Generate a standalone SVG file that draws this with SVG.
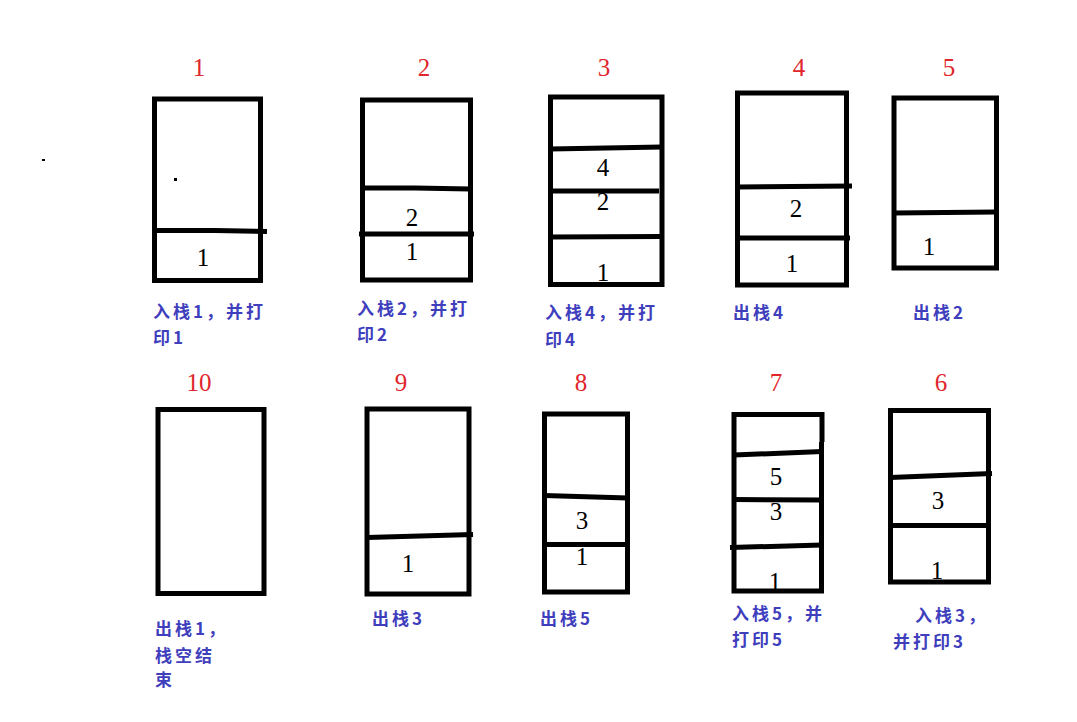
<svg xmlns="http://www.w3.org/2000/svg" width="1077" height="722" viewBox="0 0 1077 722">
<style>
.box{fill:none;stroke:#000;stroke-width:5}
.div{stroke:#000;stroke-width:5;fill:none}
.step{font-family:"Liberation Serif",serif;font-size:25px;fill:#e0262b;text-anchor:middle}
.val{font-family:"Liberation Serif",serif;font-size:25px;fill:#000;text-anchor:middle}
.cap{font-family:"Noto Sans CJK SC",sans-serif;font-size:17px;font-weight:bold;fill:#3f3fbd;letter-spacing:3px}
</style>
<rect width="1077" height="722" fill="#fff"/>
<rect x="42" y="159" width="3" height="2" fill="#000"/>

<g id="stack1">
<text class="step" x="199" y="76">1</text>
<rect class="box" x="154.5" y="99" width="106" height="181.5"/>
<path class="div" d="M155 230.5 L215 230.5 L267 231.5"/>
<rect x="174" y="178" width="3" height="3" fill="#000"/>
<text class="val" x="203" y="265.5">1</text>
<text class="cap" x="153" y="318">入栈1，并打</text>
<text class="cap" x="153" y="344">印1</text>
</g>

<g id="stack2">
<text class="step" x="424" y="76">2</text>
<rect class="box" x="362.5" y="100" width="108" height="180"/>
<path class="div" d="M363 188 L415 188 L470 189"/>
<path class="div" d="M359 234 L474 234"/>
<text class="val" x="412" y="226">2</text>
<text class="val" x="412" y="260">1</text>
<text class="cap" x="357" y="315">入栈2，并打</text>
<text class="cap" x="357" y="341">印2</text>
</g>

<g id="stack3">
<text class="step" x="604" y="76">3</text>
<rect class="box" x="550.5" y="97" width="111.5" height="187.5"/>
<path class="div" d="M550 149 L662 147"/>
<path class="div" d="M553 191 L659 191"/>
<path class="div" d="M550 237 L662 236.5"/>
<text class="val" x="603" y="176">4</text>
<text class="val" x="603" y="210">2</text>
<text class="val" x="603" y="281">1</text>
<text class="cap" x="545" y="319">入栈4，并打</text>
<text class="cap" x="545" y="346">印4</text>
</g>

<g id="stack4">
<text class="step" x="799" y="76">4</text>
<rect class="box" x="737.5" y="93" width="109" height="192"/>
<path class="div" d="M738 187 L852 186"/>
<path class="div" d="M738 238 L850 238"/>
<text class="val" x="796" y="216.5">2</text>
<text class="val" x="792" y="272">1</text>
<text class="cap" x="733" y="319">出栈4</text>
</g>

<g id="stack5">
<text class="step" x="949" y="76">5</text>
<rect class="box" x="894" y="98" width="102.5" height="170"/>
<path class="div" d="M894 213 L996 212"/>
<text class="val" x="929" y="255">1</text>
<text class="cap" x="913" y="319">出栈2</text>
</g>

<g id="stack10">
<text class="step" x="199" y="391">10</text>
<rect class="box" x="158" y="409.5" width="106" height="184"/>
<text class="cap" x="155" y="635">出栈1，</text>
<text class="cap" x="155" y="662">栈空结</text>
<text class="cap" x="155" y="686">束</text>
</g>

<g id="stack9">
<text class="step" x="401" y="391">9</text>
<rect class="box" x="367" y="409" width="102" height="185"/>
<path class="div" d="M367 537.5 L473 534.5"/>
<text class="val" x="408" y="572">1</text>
<text class="cap" x="372" y="625">出栈3</text>
</g>

<g id="stack8">
<text class="step" x="581" y="391">8</text>
<rect class="box" x="544.5" y="414" width="83" height="178"/>
<path class="div" d="M544 495.5 L628 498"/>
<path class="div" d="M544 544.5 L628 544.5"/>
<text class="val" x="582" y="529">3</text>
<text class="val" x="582" y="564.5">1</text>
<text class="cap" x="540" y="625">出栈5</text>
</g>

<g id="stack7">
<text class="step" x="776" y="391">7</text>
<path class="div" d="M822 442 L822 414.5 L734 414.5 L734 591 L821.5 591 L821.5 442"/>
<path class="div" d="M734 455 L822 451.5"/>
<path class="div" d="M734 499.5 L822 500"/>
<path class="div" d="M730 547.5 L822 545"/>
<text class="val" x="776" y="485">5</text>
<text class="val" x="776" y="520">3</text>
<text class="val" x="775" y="590">1</text>
<text class="cap" x="732" y="620">入栈5，并</text>
<text class="cap" x="732" y="646">打印5</text>
</g>

<g id="stack6">
<text class="step" x="941" y="391">6</text>
<rect class="box" x="890.5" y="410.5" width="98" height="171.5"/>
<path class="div" d="M890 477.5 L992 473.5"/>
<path class="div" d="M890 525.5 L988 525.5"/>
<text class="val" x="938" y="509">3</text>
<text class="val" x="937" y="579">1</text>
<text class="cap" x="915" y="622">入栈3，</text>
<text class="cap" x="893" y="648">并打印3</text>
</g>

<g id="connectors"></g>
</svg>
